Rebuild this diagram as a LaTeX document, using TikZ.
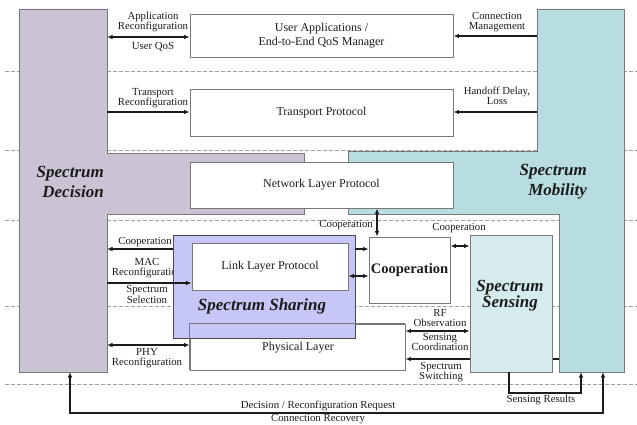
\documentclass[tikz,border=0pt]{standalone}
\usepackage{fontspec}
\setmainfont{Liberation Serif}
\usetikzlibrary{arrows.meta}

\definecolor{decfill}{HTML}{CBC3D3}
\definecolor{mobfill}{HTML}{B8DDE1}
\definecolor{sensfill}{HTML}{D6EBEE}
\definecolor{sharefill}{HTML}{C6C6F7}
\definecolor{edge}{HTML}{787878}
\definecolor{ink}{HTML}{1C1C1C}

\newcommand\labfnt{\fontsize{10.8}{10}\selectfont}
\newcommand\boxfnt{\fontsize{12}{14}\selectfont}
\newcommand\bigfnt{\bfseries\itshape\fontsize{17}{20}\selectfont}

\begin{document}
\begin{tikzpicture}[x=1pt,y=-1pt,
  guide/.style={draw=gray!75, line width=0.6pt, dash pattern=on 3.5pt off 2.5pt},
  region/.style={draw=edge, line width=0.8pt},
  layerbox/.style={draw=edge, fill=white, line width=0.8pt, inner sep=0pt,
    font=\boxfnt, align=center, text=ink},
  lbl/.style={font=\labfnt, align=center, text=ink, inner sep=0pt},
  big/.style={font=\bigfnt, align=right, text=ink, inner sep=0pt},
  arr/.style={draw=ink, line width=1.1pt, -{Latex[length=5.5pt,width=4.5pt]}},
  darr/.style={draw=ink, line width=1.1pt,
    {Latex[length=5.5pt,width=4.5pt]}-{Latex[length=5.5pt,width=4.5pt]}}]

% canvas
\useasboundingbox (0,0) rectangle (637,425);
\fill[white] (0,0) rectangle (637,425);

% layer separators
\foreach \yy in {71,150,220,306,384}
  \draw[guide] (5,\yy) -- (637,\yy);

% Spectrum Decision region
\filldraw[region, fill=decfill] (19,9) -- (107,9) -- (107,153) -- (304,153)
  -- (304,214) -- (107,214) -- (107,372) -- (19,372) -- cycle;
% Spectrum Mobility region
\filldraw[region, fill=mobfill] (537,9) -- (624,9) -- (624,372) -- (559,372)
  -- (559,214) -- (348,214) -- (348,151.5) -- (537,151.5) -- cycle;

% attachment points on the two regions
\coordinate (dA) at (107,37);
\coordinate (dT) at (107,112);
\coordinate (dC) at (107,249);
\coordinate (dM) at (107,283);
\coordinate (dP) at (107,345);
\coordinate (mA) at (537,36);
\coordinate (mT) at (537,112);
\coordinate (mS) at (559,359);
\coordinate (decB) at (70,372);
\coordinate (mobB1) at (581,372);
\coordinate (mobB2) at (603,372);
\coordinate (srTurn) at (581,393);
\coordinate (rqTurn) at (603,413);

% protocol stack boxes
\node[layerbox, minimum width=263pt, minimum height=43pt] (app) at (321.5,35.5)
  {User Applications /\\End-to-End QoS Manager};
\node[layerbox, minimum width=263pt, minimum height=47pt] (trans) at (321.5,112.5)
  {Transport Protocol};
\node[layerbox, minimum width=263pt, minimum height=46pt] (net) at (321.5,185)
  {Network Layer Protocol};
\node[layerbox, minimum width=215pt, minimum height=46pt] (phy) at (297.5,347) {};
\node[lbl, font=\boxfnt] (phyT) at (298,348) {Physical Layer};

% label partly hidden by the sharing block
\node[lbl] (lMAC) at (147,268.5) {MAC\\Reconfiguration};

% spectrum sharing block
\node[draw=ink!80, fill=sharefill, line width=0.8pt, minimum width=182pt,
  minimum height=103pt, inner sep=0pt] (share) at (264,286.5) {};
\draw[edge, line width=0.8pt] (phy.south west) -- (phy.north west) -- (phy.north east);
\node[layerbox, minimum width=156pt, minimum height=47pt] (link) at (270,266.5)
  {Link Layer Protocol};
\node[big, align=center] (shareT) at (262,306) {Spectrum Sharing};

% cooperation block
\node[layerbox, minimum width=81pt, minimum height=66pt,
  font=\bfseries\fontsize{14.5}{16}\selectfont] (coop) at (409.5,270) {Cooperation};

% spectrum switching runs behind the sensing block
\draw[arr] (mS) -- (mS -| phy.east);

% spectrum sensing block
\node[draw=edge, fill=sensfill, line width=0.8pt, minimum width=82pt,
  minimum height=137pt, inner sep=0pt] (sense) at (511,303.5) {};
\node[big, align=center, font=\bfseries\itshape\fontsize{17}{15}\selectfont]
  (senseT) at (510,295.5) {Spectrum\\Sensing};

% region titles
\node[big, anchor=east] (decT) at (104,182) {Spectrum\\Decision};
\node[big, anchor=east] (mobT) at (587,182) {Spectrum\\Mobility};

% decision side connectors
\draw[darr] (dA) -- (dA -| app.west);
\node[lbl] (lApp) at (153,22) {Application\\Reconfiguration};
\node[lbl] (lQoS) at (153,47) {User QoS};

\draw[arr] (dT) -- (dT -| trans.west);
\node[lbl] (lTr) at (153,98) {Transport\\Reconfiguration};

\draw[arr] (dC -| share.west) -- (dC);
\node[lbl] (lCo1) at (145,242) {Cooperation};

\draw[arr] (dM) -- (dM -| link.west);
\node[lbl, font=\fontsize{10.8}{9.5}\selectfont] (lSel) at (147,294.5) {Spectrum\\Selection};

\draw[darr] (dP) -- (dP -| phy.west);
\node[lbl] (lPhy) at (147,358) {PHY\\Reconfiguration};

% mobility side connectors
\draw[arr] (mA) -- (mA -| app.east);
\node[lbl] (lCM) at (497,22) {Connection\\Management};

\draw[arr] (mT) -- (mT -| trans.east);
\node[lbl] (lHo) at (497,96) {Handoff Delay,\\Loss};

\node[lbl] (lSw) at (441,372) {Spectrum\\Switching};

% cooperation connectors
\draw[darr] (net.south -| 377,0) -- (coop.north -| 377,0);
\node[lbl, anchor=east] (lCo2) at (373,225) {Cooperation};

\draw[arr] (share.east |- 0,249) -- (coop.west |- 0,249);
\draw[darr] (link.east |- 0,276) -- (coop.west |- 0,276);

\draw[darr] (coop.east |- 0,246) -- (sense.west |- 0,246);
\node[lbl] (lCo3) at (459,228) {Cooperation};

% sensing connectors
\draw[darr] (phy.east |- 0,331) -- (sense.west |- 0,331);
\node[lbl] (lRF) at (440,318.5) {RF\\Observation};
\node[lbl] (lSC) at (440,342) {Sensing\\Coordination};

\draw[arr] ([xshift=-2pt]sense.south) |- (srTurn) -- (mobB1);
\node[lbl] (lSR) at (541,400) {Sensing Results};

% feedback loop at the bottom
\draw[darr] (decB) |- (rqTurn) -- (mobB2);
\node[lbl] (lReq) at (318,405.5) {Decision / Reconfiguration Request};
\node[lbl] (lRec) at (318,419.5) {Connection Recovery};

\end{tikzpicture}
\end{document}
